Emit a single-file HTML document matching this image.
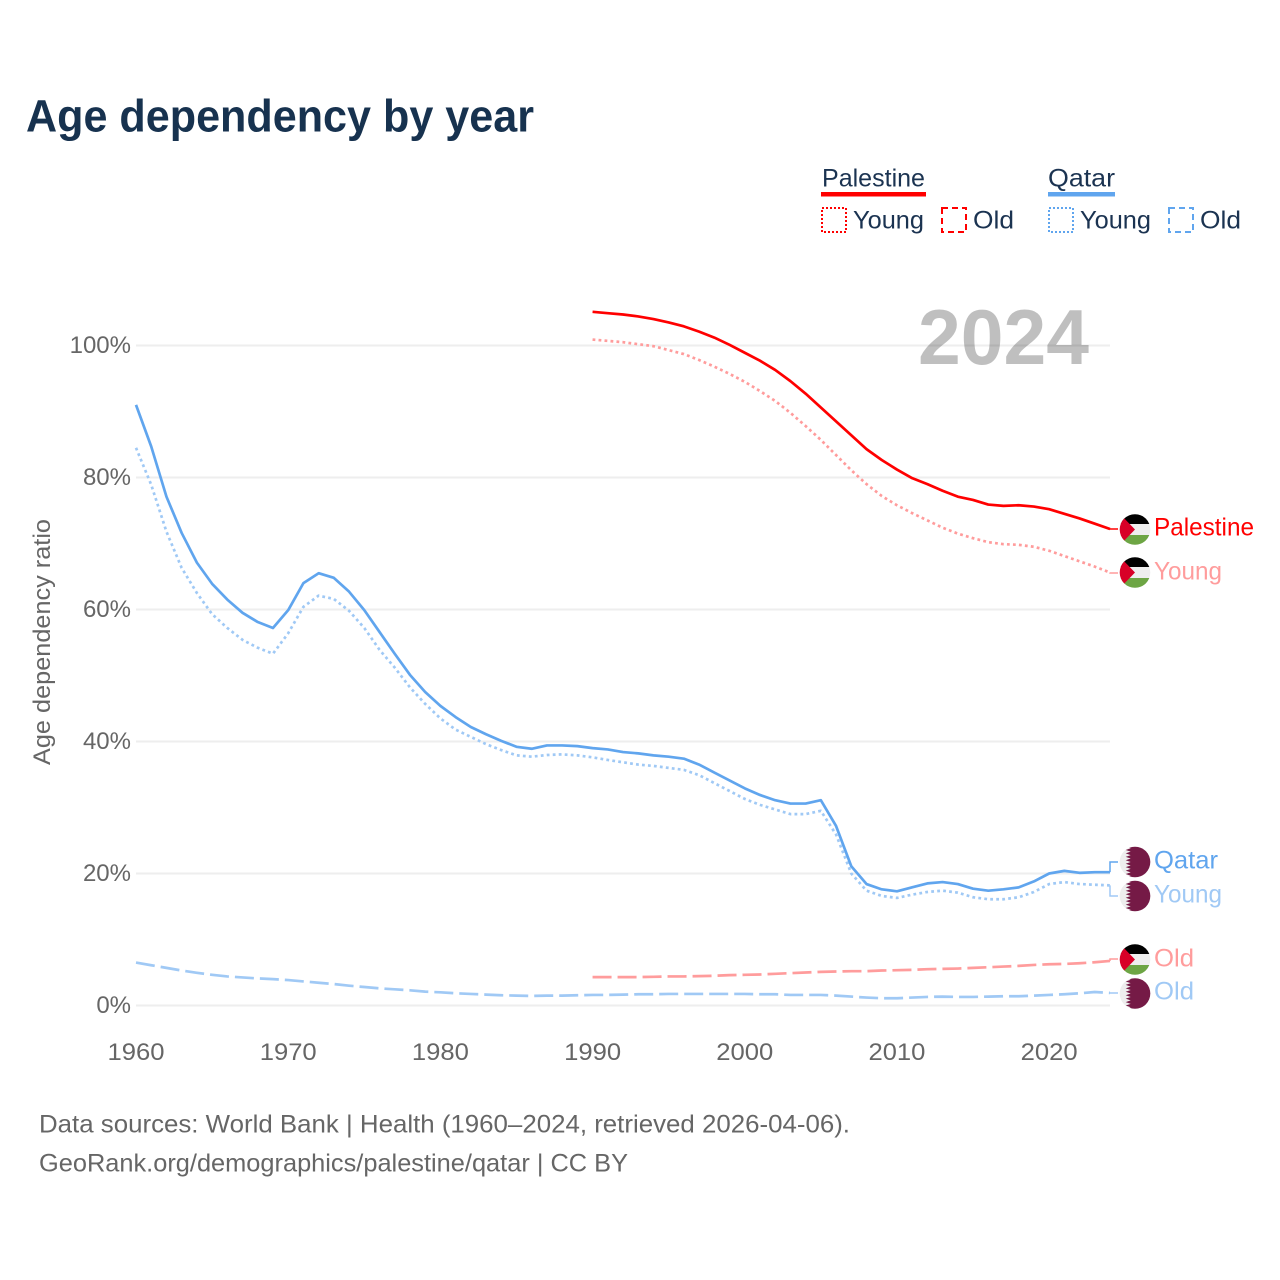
<!DOCTYPE html>
<html lang="en">
<head>
<meta charset="utf-8">
<title>Age dependency by year</title>
<style>
html,body{margin:0;padding:0;background:#fff;width:1280px;height:1280px;overflow:hidden}
svg{display:block}
text{font-family:"Liberation Sans",sans-serif}
</style>
</head>
<body>
<svg id="chart" xmlns="http://www.w3.org/2000/svg" width="1280" height="1280" viewBox="0 0 1280 1280">
<defs>
<clipPath id="flag-clip"><circle cx="0" cy="0" r="15.3"/></clipPath>
</defs>
<rect x="0" y="0" width="1280" height="1280" fill="#fff"/>
<text x="26" y="131.5" font-size="45" font-weight="700" fill="#17324f" textLength="508" lengthAdjust="spacingAndGlyphs">Age dependency by year</text>

<g>
<text x="822" y="186.5" font-size="25" fill="#1b3351" textLength="103" lengthAdjust="spacingAndGlyphs">Palestine</text>
<rect x="821" y="192" width="105" height="4.5" fill="#ff0000"/>
<rect x="822" y="208" width="24" height="24" fill="none" stroke="#ff0000" stroke-width="2" stroke-dasharray="2 2"/>
<text x="853" y="228.5" font-size="25" fill="#1b3351" textLength="71" lengthAdjust="spacingAndGlyphs">Young</text>
<rect x="942" y="208" width="24" height="24" fill="none" stroke="#ff0000" stroke-width="2" stroke-dasharray="6 4"/>
<text x="973" y="228.5" font-size="25" fill="#1b3351" textLength="41" lengthAdjust="spacingAndGlyphs">Old</text>
<text x="1048" y="186.5" font-size="25" fill="#1b3351" textLength="67" lengthAdjust="spacingAndGlyphs">Qatar</text>
<rect x="1048" y="192" width="67" height="4.5" fill="#60a5ee"/>
<rect x="1049" y="208" width="24" height="24" fill="none" stroke="#60a5ee" stroke-width="2" stroke-dasharray="2 2"/>
<text x="1080" y="228.5" font-size="25" fill="#1b3351" textLength="71" lengthAdjust="spacingAndGlyphs">Young</text>
<rect x="1169" y="208" width="24" height="24" fill="none" stroke="#60a5ee" stroke-width="2" stroke-dasharray="6 4"/>
<text x="1200" y="228.5" font-size="25" fill="#1b3351" textLength="41" lengthAdjust="spacingAndGlyphs">Old</text>
</g>

<g id="grid"></g>
<g id="yticks"></g>
<g id="xticks"></g>
<text transform="translate(50,642) rotate(-90)" text-anchor="middle" font-size="24" fill="#666" textLength="246" lengthAdjust="spacingAndGlyphs">Age dependency ratio</text>
<g id="series"></g>
<text x="918" y="364" font-size="78" font-weight="700" fill="#000" fill-opacity="0.25" textLength="171" lengthAdjust="spacingAndGlyphs">2024</text>
<g id="labels"></g>

<text x="39" y="1132.5" font-size="25" fill="#666" textLength="811" lengthAdjust="spacingAndGlyphs">Data sources: World Bank | Health (1960–2024, retrieved 2026-04-06).</text>
<text x="39" y="1171.5" font-size="25" fill="#666" textLength="589" lengthAdjust="spacingAndGlyphs">GeoRank.org/demographics/palestine/qatar | CC BY</text>
</svg>
<script>
const yTickValues = [0, 20, 40, 60, 80, 100];
const xTickValues = [1960, 1970, 1980, 1990, 2000, 2010, 2020];
const palestineStartYear = 1990;
const qatarStartYear = 1960;
const palestineTotal = [105.1,104.9,104.7,104.4,104.0,103.5,102.9,102.1,101.2,100.1,98.9,97.7,96.3,94.6,92.7,90.6,88.5,86.4,84.3,82.65,81.2,79.9,79.0,78.0,77.1,76.6,75.9,75.7,75.8,75.6,75.2,74.5,73.8,73.0,72.2];
const palestineYoung = [100.9,100.7,100.5,100.2,99.9,99.3,98.7,97.8,96.8,95.7,94.5,93.1,91.6,89.8,87.8,85.7,83.4,81.1,79.0,77.2,75.8,74.6,73.5,72.4,71.5,70.8,70.2,69.9,69.8,69.5,68.9,68.1,67.3,66.5,65.6];
const palestineOld = [4.3,4.3,4.3,4.3,4.35,4.4,4.4,4.45,4.5,4.6,4.65,4.7,4.8,4.9,5.0,5.1,5.15,5.2,5.2,5.3,5.35,5.4,5.5,5.55,5.6,5.7,5.8,5.9,6.0,6.15,6.25,6.3,6.4,6.55,6.75];
const qatarTotal = [91.0,84.7,77.1,71.6,67.1,63.9,61.5,59.5,58.1,57.2,59.9,64.0,65.5,64.8,62.7,59.9,56.6,53.3,50.1,47.5,45.4,43.7,42.2,41.1,40.1,39.2,38.9,39.4,39.4,39.3,39.0,38.8,38.4,38.2,37.9,37.7,37.4,36.5,35.3,34.1,32.9,31.9,31.1,30.6,30.6,31.1,27.2,21.1,18.4,17.6,17.3,17.9,18.5,18.7,18.4,17.7,17.4,17.6,17.9,18.8,20.0,20.4,20.1,20.2,20.2];
const qatarYoung = [84.5,78.9,71.8,66.3,62.5,59.3,57.2,55.4,54.2,53.3,56.4,60.4,62.1,61.6,59.8,57.2,53.9,51.2,48.2,45.7,43.5,41.8,40.7,39.6,38.7,37.9,37.7,37.95,38.05,37.9,37.6,37.2,36.85,36.5,36.3,36.0,35.7,34.9,33.7,32.5,31.3,30.4,29.7,29.0,29.0,29.5,25.9,20.0,17.4,16.6,16.3,16.8,17.2,17.4,17.1,16.4,16.1,16.1,16.4,17.2,18.4,18.7,18.4,18.3,18.2];
const qatarOld = [6.5,6.1,5.7,5.3,4.95,4.65,4.4,4.25,4.1,4.0,3.85,3.65,3.45,3.25,3.0,2.8,2.6,2.45,2.3,2.1,2.0,1.85,1.75,1.65,1.55,1.5,1.45,1.5,1.5,1.55,1.6,1.6,1.65,1.7,1.7,1.75,1.75,1.75,1.75,1.75,1.75,1.7,1.7,1.6,1.6,1.6,1.5,1.35,1.2,1.1,1.1,1.2,1.3,1.35,1.3,1.3,1.35,1.4,1.4,1.5,1.6,1.7,1.85,2.05,1.9];

const NS = 'http://www.w3.org/2000/svg';
function xScale(year) { return 136 + (year - 1960) * (1110 - 136) / 64; }
function yScale(v) { return 1005.5 - v * 6.6; }
function mk(tag, attrs, parent) {
  const el = document.createElementNS(NS, tag);
  for (const k in attrs) el.setAttribute(k, attrs[k]);
  parent.appendChild(el);
  return el;
}

const gridG = document.getElementById('grid');
const yG = document.getElementById('yticks');
yTickValues.forEach(function (v) {
  const line = mk('line', {x1: 136, x2: 1110, y1: yScale(v), y2: yScale(v), stroke: '#eeeeee', 'stroke-width': 2}, gridG);
  
  
  const t = mk('text', {x: 131, y: yScale(v) + 7.5, 'text-anchor': 'end', 'font-size': 24, fill: '#666'}, yG);
  
  
  t.textContent = v + '%';
});
const xG = document.getElementById('xticks');
xTickValues.forEach(function (y) {
  const t = mk('text', {x: xScale(y), y: 1060, 'text-anchor': 'middle', 'font-size': 24, fill: '#666', textLength: 57, lengthAdjust: 'spacingAndGlyphs'}, xG);
  
  
  t.textContent = y;
});

const RED = '#ff0000', RED_L = '#ff9c9c', BLUE = '#60a5ee', BLUE_L = '#a0c9f5';
const seriesG = document.getElementById('series');
function drawSeries(values, startYear, color, width, dash, name) {
  const d = values.map(function (v, i) {
    return (i ? 'L' : 'M') + xScale(startYear + i).toFixed(2) + ' ' + yScale(v).toFixed(2);
  }).join(' ');
  const p = mk('path', {d: d, fill: 'none', stroke: color, 'stroke-width': width, 'stroke-linejoin': 'round'}, seriesG);
  if (dash) p.setAttribute('stroke-dasharray', dash);
  
  
}
drawSeries(qatarOld, qatarStartYear, BLUE_L, 2.7, '19 6', 'line-qatar-old');
drawSeries(palestineOld, palestineStartYear, RED_L, 2.7, '19 6', 'line-palestine-old');
drawSeries(qatarYoung, qatarStartYear, BLUE_L, 2.7, '2.8 3.2', 'line-qatar-young');
drawSeries(palestineYoung, palestineStartYear, RED_L, 2.7, '2.8 3.2', 'line-palestine-young');
drawSeries(qatarTotal, qatarStartYear, BLUE, 2.7, null, 'line-qatar-total');
drawSeries(palestineTotal, palestineStartYear, RED, 2.7, null, 'line-palestine-total');

const labelsG = document.getElementById('labels');
function flagPalestine(cy, name) {
  const g = mk('g', {transform: 'translate(1135,' + cy + ')', 'clip-path': 'url(#flag-clip)'}, labelsG);
  
  
  mk('rect', {x: -16, y: -16, width: 32, height: 32, fill: '#eeeeee'}, g);
  mk('rect', {x: -16, y: -16, width: 32, height: 10.5, fill: '#000000'}, g);
  mk('rect', {x: -16, y: 5.5, width: 32, height: 11, fill: '#6da544'}, g);
  mk('polygon', {points: '-16,-16 -15.5,-16 0,0 -15.5,16 -16,16', fill: '#d80027'}, g);
}
function flagQatar(cy, name) {
  const g = mk('g', {transform: 'translate(1135,' + cy + ')', 'clip-path': 'url(#flag-clip)'}, labelsG);
  
  
  mk('rect', {x: -16, y: -16, width: 32, height: 32, fill: '#eeeeee'}, g);
  const teeth = 9;
  const h = 31 / teeth;
  let pts = '17,-15.5 -9.3,-15.5';
  for (let i = 0; i < teeth; i++) {
    const yTop = -15.5 + i * h;
    pts += ' -4.3,' + (yTop + h / 2).toFixed(2) + ' -9.3,' + (yTop + h).toFixed(2);
  }
  pts += ' 17,15.5';
  mk('polygon', {points: pts, fill: '#751a46'}, g);
}
function endLabel(text, y, color, w, name) {
  const t = mk('text', {x: 1154, y: y, 'font-size': 25, fill: color, textLength: w, lengthAdjust: 'spacingAndGlyphs'}, labelsG);
  
  
  t.textContent = text;
}
function connector(lastValue, targetY, color, name) {
  const y0 = yScale(lastValue).toFixed(2);
  const p = mk('path', {d: 'M1110 ' + y0 + ' L1110 ' + targetY + ' L1118 ' + targetY, fill: 'none', stroke: color, 'stroke-width': 1.5}, labelsG);
  
  
}
connector(palestineTotal[palestineTotal.length - 1], 529, RED, 'connector-palestine');
connector(palestineYoung[palestineYoung.length - 1], 573, RED_L, 'connector-palestine-young');
connector(qatarTotal[qatarTotal.length - 1], 862, BLUE, 'connector-qatar');
connector(qatarYoung[qatarYoung.length - 1], 896, BLUE_L, 'connector-qatar-young');
connector(palestineOld[palestineOld.length - 1], 959, RED_L, 'connector-palestine-old');
connector(qatarOld[qatarOld.length - 1], 993, BLUE_L, 'connector-qatar-old');
flagPalestine(529.5, 'flag-palestine');
flagPalestine(572.5, 'flag-palestine-young');
flagQatar(862, 'flag-qatar');
flagQatar(896, 'flag-qatar-young');
flagPalestine(959.5, 'flag-palestine-old');
flagQatar(993.5, 'flag-qatar-old');
endLabel('Palestine', 535.5, RED, 100, 'label-palestine');
endLabel('Young', 579.5, RED_L, 68, 'label-palestine-young');
endLabel('Qatar', 868.5, BLUE, 64, 'label-qatar');
endLabel('Young', 902.5, BLUE_L, 68, 'label-qatar-young');
endLabel('Old', 966.5, RED_L, 40, 'label-palestine-old');
endLabel('Old', 999.5, BLUE_L, 40, 'label-qatar-old');
</script>
</body>
</html>
